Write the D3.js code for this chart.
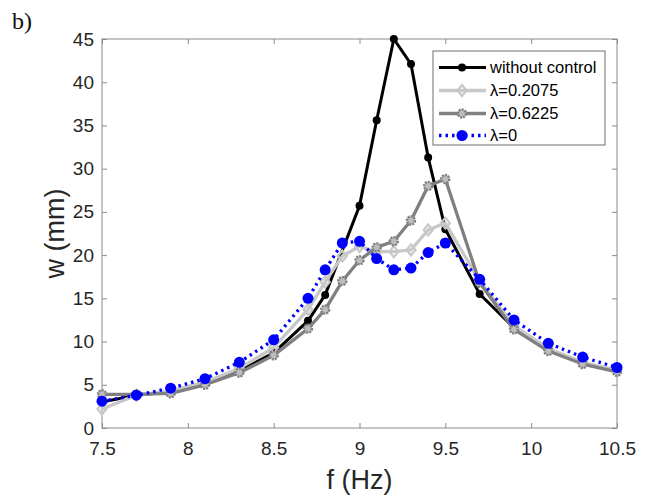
<!DOCTYPE html>
<html><head><meta charset="utf-8">
<script src="https://cdn.jsdelivr.net/npm/d3@7"></script>
<style>body{margin:0;background:#fff}svg{display:block}</style>
</head><body>
<svg id="c" width="649" height="498"></svg>
<script>
const freqs = [7.5,7.7,7.9,8.1,8.3,8.5,8.7,8.8,8.9,9.0,9.1,9.2,9.3,9.4,9.5,9.7,9.9,10.1,10.3,10.5];
const freqsNoControl = [7.5,7.7,7.9,8.1,8.3,8.5,8.7,8.8,9.0,9.1,9.2,9.3,9.4,9.5,9.7,9.9,10.1,10.3,10.5];
const wNoControl = [3.0,3.8,4.2,5.2,6.6,8.7,12.4,15.4,25.7,35.6,45.0,42.1,31.3,23.0,15.5,11.6,9.1,7.5,6.6];
const wLam02075 = [2.2,3.8,4.3,5.3,6.9,9.3,13.7,16.9,19.9,21.0,20.4,20.4,20.6,22.9,23.7,17.0,11.8,9.2,7.6,6.7];
const wLam06225 = [3.9,3.9,4.0,5.0,6.4,8.4,11.5,13.7,17.0,19.4,20.9,21.6,24.0,28.0,28.8,16.8,11.4,8.9,7.4,6.5];
const wLam0 = [3.1,3.8,4.6,5.7,7.6,10.2,15.0,18.3,21.4,21.6,19.6,18.3,18.5,20.3,21.4,17.2,12.5,9.8,8.2,7.0];
const xTicks = [7.5,8,8.5,9,9.5,10,10.5];
const yTicks = [0,5,10,15,20,25,30,35,40,45];
const seriesNames = ["without control","\u03bb=0.2075","\u03bb=0.6225","\u03bb=0"];

const svg = d3.select("#c");
const L=102, R=617, T=39, B=428;
const x = d3.scaleLinear().domain([7.5,10.5]).range([L,R]);
const y = d3.scaleLinear().domain([0,45]).range([B,T]);
const axisCol = "#8a8a8a", txtCol = "#262626", font = "'Liberation Sans', Arial, sans-serif";

svg.append("rect").attr("x",L).attr("y",T).attr("width",R-L).attr("height",B-T)
  .attr("fill","none").attr("stroke",axisCol).attr("stroke-width",1);

function styleAxis(g, hideText){
  g.select(".domain").remove();
  g.selectAll(".tick line").attr("stroke",axisCol);
  g.selectAll(".tick text").attr("fill",txtCol).style("font-family",font).style("font-size","19px");
  if(hideText) g.selectAll(".tick text").remove();
}
svg.append("g").attr("transform",`translate(0,${B})`)
  .call(d3.axisBottom(x).tickValues(xTicks).tickFormat(d3.format("")).tickSizeInner(-5).tickSizeOuter(0).tickPadding(14))
  .call(g=>styleAxis(g,false));
svg.append("g").attr("transform",`translate(0,${T})`)
  .call(d3.axisTop(x).tickValues(xTicks).tickSizeInner(-5).tickSizeOuter(0))
  .call(g=>styleAxis(g,true));
svg.append("g").attr("transform",`translate(${L},0)`)
  .call(d3.axisLeft(y).tickValues(yTicks).tickSizeInner(-5).tickSizeOuter(0).tickPadding(8))
  .call(g=>styleAxis(g,false));
svg.append("g").attr("transform",`translate(${R},0)`)
  .call(d3.axisRight(y).tickValues(yTicks).tickSizeInner(-5).tickSizeOuter(0))
  .call(g=>styleAxis(g,true));

svg.append("text").attr("x",(L+R)/2).attr("y",489).attr("text-anchor","middle")
  .style("font-family",font).style("font-size","27px").attr("fill",txtCol).text("f (Hz)");
svg.append("text").attr("transform",`translate(64,${(T+B)/2}) rotate(-90)`).attr("text-anchor","middle")
  .style("font-family",font).style("font-size","27px").attr("fill",txtCol).text("w (mm)");
svg.append("text").attr("x",12).attr("y",29).style("font-family","'Liberation Serif','Times New Roman',serif")
  .style("font-size","24px").attr("fill","#111").text("b)");

const series = [
  {fx:freqsNoControl, v:wNoControl, color:"#000", width:3, dash:null, marker:"dot"},
  {fx:freqs, v:wLam02075, color:"#c8c8c8", width:3.3, dash:null, marker:"diamond"},
  {fx:freqs, v:wLam06225, color:"#808080", width:3.3, dash:null, marker:"ring"},
  {fx:freqs, v:wLam0, color:"#0000ff", width:3.3, dash:"2.5,4", marker:"bigdot"}
];
const line = d3.line().x(d=>x(d[0])).y(d=>y(d[1]));

function drawMarker(g, type, color, cx, cy){
  if(type==="dot") g.append("circle").attr("cx",cx).attr("cy",cy).attr("r",4).attr("fill",color);
  else if(type==="bigdot") g.append("circle").attr("cx",cx).attr("cy",cy).attr("r",5.5).attr("fill",color);
  else if(type==="diamond") g.append("path").attr("d",`M${cx},${cy-5.5}L${cx+4.5},${cy}L${cx},${cy+5.5}L${cx-4.5},${cy}Z`)
    .attr("fill","none").attr("stroke",color).attr("stroke-width",2.2);
  else if(type==="ring") g.append("circle").attr("cx",cx).attr("cy",cy).attr("r",4)
    .attr("fill","#bdbdbd").attr("stroke",color).attr("stroke-width",2.4).attr("stroke-dasharray","2,1");
}

const plot = svg.append("g");
series.forEach(s=>{
  const pts = s.fx.map((f,i)=>[f,s.v[i]]);
  const g = plot.append("g");
  g.append("path").attr("d",line(pts)).attr("fill","none").attr("stroke",s.color)
    .attr("stroke-width",s.width).attr("stroke-linejoin","round")
    .attr("stroke-dasharray",s.dash).attr("stroke-linecap",s.dash?"butt":"round");
  pts.forEach(p=>drawMarker(g,s.marker,s.color,x(p[0]),y(p[1])));
});

const lg = svg.append("g");
lg.append("rect").attr("x",433).attr("y",51).attr("width",172).attr("height",94)
  .attr("fill","#fff").attr("stroke","#6e6e6e").attr("stroke-width",1);
const rowsY = [67.5,90.5,113.5,135.5];
series.forEach((s,i)=>{
  lg.append("line").attr("x1",439).attr("x2",486).attr("y1",rowsY[i]).attr("y2",rowsY[i])
    .attr("stroke",s.color).attr("stroke-width",s.width).attr("stroke-dasharray",s.dash);
  drawMarker(lg,s.marker,s.color,462,rowsY[i]);
  lg.append("text").attr("x",490).attr("y",rowsY[i]).attr("dy","0.35em")
    .style("font-family",font).style("font-size","16.5px").attr("fill","#000").text(seriesNames[i]);
});
</script>
</body></html>
